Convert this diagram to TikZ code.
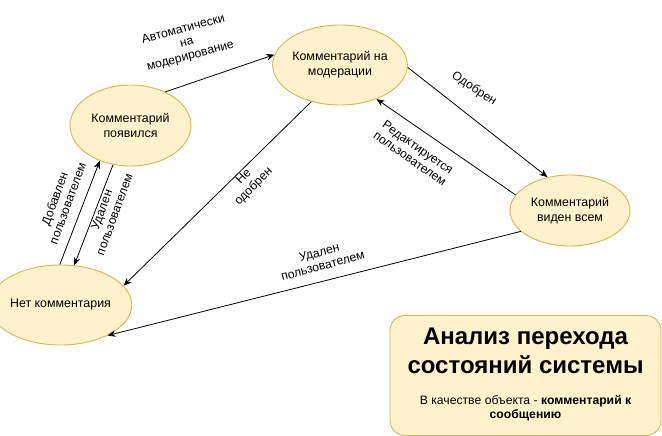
\documentclass[tikz,border=0pt]{standalone}
\usepackage{fontspec}
\setmainfont{Liberation Sans}
\usetikzlibrary{shapes.geometric,arrows.meta}
\definecolor{stfill}{HTML}{FFF2CC}
\definecolor{stdraw}{HTML}{D6B656}
\begin{document}
\begin{tikzpicture}[x=1pt,y=-1pt,
  state/.style={ellipse, draw=stdraw, fill=stfill, line width=0.9pt, inner sep=0pt, align=center, font=\fontsize{12.4}{15}\selectfont},
  lbl/.style={align=center, font=\fontsize{12.2}{13.8}\selectfont, inner sep=0pt},
  arr/.style={-{Stealth[length=8pt,width=6.5pt]}, line width=0.8pt}]
\useasboundingbox (0,0) rectangle (662,436);
\node[state, minimum width=121pt, minimum height=81pt] (pojav) at (130.5,125.5) {Комментарий\\появился};
\node[state, minimum width=120pt, minimum height=80pt] (moder) at (340,65) {Комментарий на\\модерации};
\node[state, minimum width=120pt, minimum height=71pt] (vid) at (570,210.5) {Комментарий\\виден всем};
\node[state, minimum width=120pt, minimum height=80pt] (net) at (60.5,305) {Нет комментария};

\draw[arr] (pojav.44) -- (moder.171);
\draw[arr] (moder.-2) -- (vid.124);
\draw[arr] (vid.164) -- (moder.-43);
\draw[arr] (moder.-128) -- (net.17);
\draw[arr] (vid.-157) -- (net.-33);
\draw[arr] (net.91) -- (pojav.-131);
\draw[arr] (pojav.-114) -- (net.71);

\node[lbl, rotate=15] (l1) at (187,43) {Автоматически\\на\\модерирование};
\node[lbl, rotate=-33] (l2) at (474,89) {Одобрен};
\node[lbl, rotate=-35] (l3) at (414,153) {Редактируется\\пользователем};
\node[lbl, rotate=45] (l4) at (249,182) {Не\\одобрен};
\node[lbl, rotate=15] (l5) at (321,259) {Удален\\пользователем};
\node[lbl, rotate=70] (l6) at (61,201) {Добавлен\\пользователем};
\node[lbl, rotate=70] (l7) at (108,212) {Удален\\пользователем};

\node[draw=stdraw, fill=stfill, rounded corners=15pt, minimum width=271pt, minimum height=120pt, line width=0.9pt] (box) at (525.5,375.5) {};
\node[font=\fontsize{24}{29}\selectfont\bfseries, align=center, inner sep=0pt] (title) at (525.5,351) {Анализ перехода\\состояний системы};
\node[font=\fontsize{12.2}{13.8}\selectfont, align=center, inner sep=0pt] (sub) at (525.5,408) {В качестве объекта - \textbf{комментарий к}\\\textbf{сообщению}};
\end{tikzpicture}
\end{document}
